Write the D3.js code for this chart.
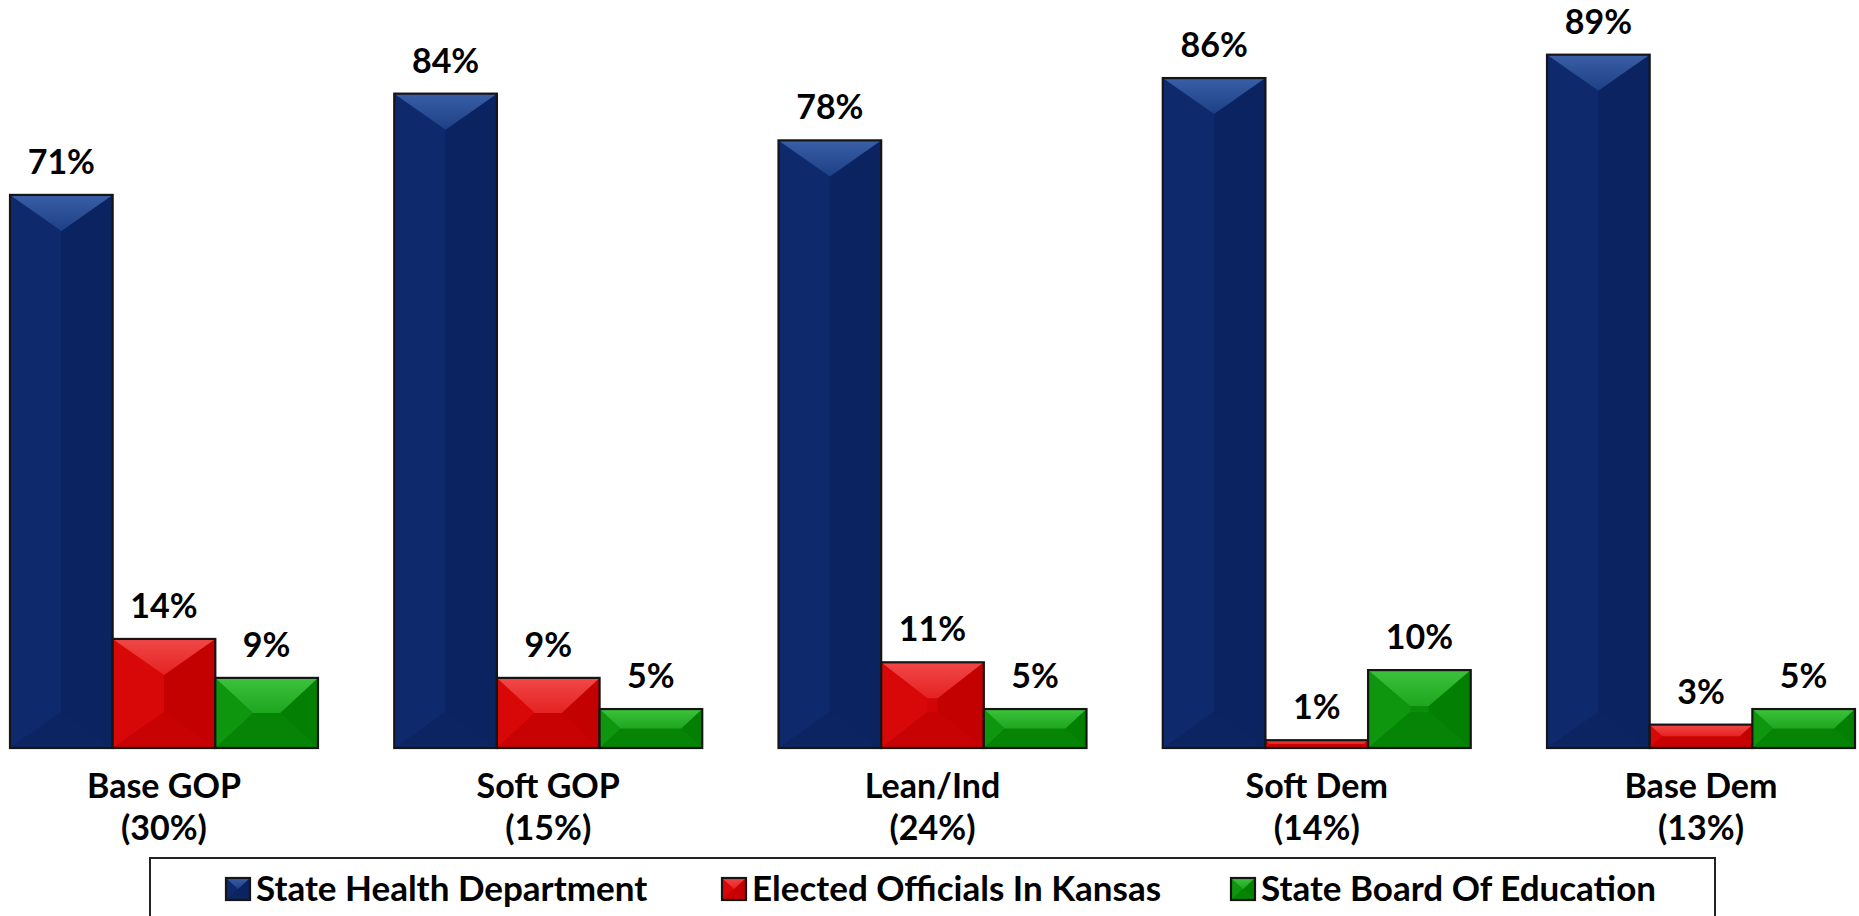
<!DOCTYPE html>
<html>
<head>
<meta charset="utf-8">
<script src="https://cdn.jsdelivr.net/npm/d3@7"></script>
<style>
  html, body { margin: 0; padding: 0; background: #ffffff; }
  svg { display: block; }
  text { font-family: Lato, "Open Sans", "DejaVu Sans", sans-serif; font-weight: 700; fill: #000; }
</style>
</head>
<body>
<svg id="chart" width="1859" height="916"></svg>
<script>
const categories = ["Base GOP", "Soft GOP", "Lean/Ind", "Soft Dem", "Base Dem"];
const categoryShares = ["(30%)", "(15%)", "(24%)", "(14%)", "(13%)"];
const seriesNames = ["State Health Department", "Elected Officials In Kansas", "State Board Of Education"];
const healthDept = [71, 84, 78, 86, 89];
const electedOfficials = [14, 9, 11, 1, 3];
const boardOfEducation = [9, 5, 5, 10, 5];

const seriesValues = [healthDept, electedOfficials, boardOfEducation];
const palette = [
  { base: "#0d2766", top: "#1d3f86", topHi: "#3a5fa6", left: "#0f2a6c", right: "#0b2360", bottom: "#0c2562" },
  { base: "#d20404", top: "#e42222", topHi: "#f24848", left: "#d80808", right: "#c40101", bottom: "#c80202" },
  { base: "#0b8c0b", top: "#1fa61f", topHi: "#3cc23c", left: "#0e960e", right: "#038003", bottom: "#068406" }
];

const svg = d3.select("#chart");
const defs = svg.append("defs");
palette.forEach((p, i) => {
  const g = defs.append("linearGradient").attr("id", "topg" + i)
    .attr("x1", 0).attr("y1", 0).attr("x2", 0).attr("y2", 1);
  g.append("stop").attr("offset", "0%").attr("stop-color", p.topHi);
  g.append("stop").attr("offset", "100%").attr("stop-color", p.top);
});

const x0 = d3.scaleBand().domain(categories).range([10, 1855]).paddingInner(0.1985).paddingOuter(0);
const x1 = d3.scaleBand().domain(seriesNames).range([0, x0.bandwidth()]);
const y = d3.scaleLinear().domain([0, 100]).range([748, -31]);

function bevelBar(g, x, yTop, w, h, p, i, bxMax, byMax) {
  const by = Math.min(h / 2, byMax);
  const bx = Math.min(w / 2, h / 2 * 1.08, bxMax);
  const x2 = x + w, y2 = yTop + h;
  g.append("rect").attr("x", x).attr("y", yTop).attr("width", w).attr("height", h).attr("fill", p.base);
  const poly = (pts, fill) => g.append("polygon").attr("points", pts.map(d => d.join(",")).join(" ")).attr("fill", fill);
  poly([[x, yTop], [x + bx, yTop + by], [x + bx, y2 - by], [x, y2]], p.left);
  poly([[x2, yTop], [x2 - bx, yTop + by], [x2 - bx, y2 - by], [x2, y2]], p.right);
  poly([[x, y2], [x + bx, y2 - by], [x2 - bx, y2 - by], [x2, y2]], p.bottom);
  poly([[x, yTop], [x2, yTop], [x2 - bx, yTop + by], [x + bx, yTop + by]], "url(#topg" + i + ")");
  g.append("rect").attr("x", x).attr("y", yTop).attr("width", w).attr("height", h)
    .attr("fill", "none").attr("stroke", "#151515").attr("stroke-width", 2.2);
}

const groups = svg.append("g").selectAll("g").data(categories).join("g")
  .attr("transform", d => `translate(${x0(d)},0)`);

groups.each(function(cat, ci) {
  const g = d3.select(this);
  seriesNames.forEach((s, si) => {
    const v = seriesValues[si][ci];
    const bx = x1(s), bw = x1.bandwidth();
    const top = y(v), h = y(0) - y(v);
    bevelBar(g.append("g"), bx, top, bw, h, palette[si], si, 60, 36);
    g.append("text").attr("x", bx + bw / 2).attr("y", top - 21)
      .attr("text-anchor", "middle").attr("font-size", 34).text(v + "%");
  });
  const cx = x0.bandwidth() / 2;
  g.append("text").attr("x", cx).attr("y", 798).attr("text-anchor", "middle").attr("font-size", 34).text(cat);
  g.append("text").attr("x", cx).attr("y", 840).attr("text-anchor", "middle").attr("font-size", 34).text(categoryShares[ci]);
});

// Legend
const legend = svg.append("g");
legend.append("rect").attr("x", 150).attr("y", 858).attr("width", 1565).attr("height", 100)
  .attr("fill", "#fff").attr("stroke", "#222").attr("stroke-width", 2);
const legendX = [226, 722, 1231];
seriesNames.forEach((s, i) => {
  const lg = legend.append("g");
  bevelBar(lg, legendX[i], 878, 24, 22, palette[i], i, 12, 11);
  lg.append("text").attr("x", legendX[i] + 30).attr("y", 901).attr("font-size", 35).text(s);
});
</script>
</body>
</html>
